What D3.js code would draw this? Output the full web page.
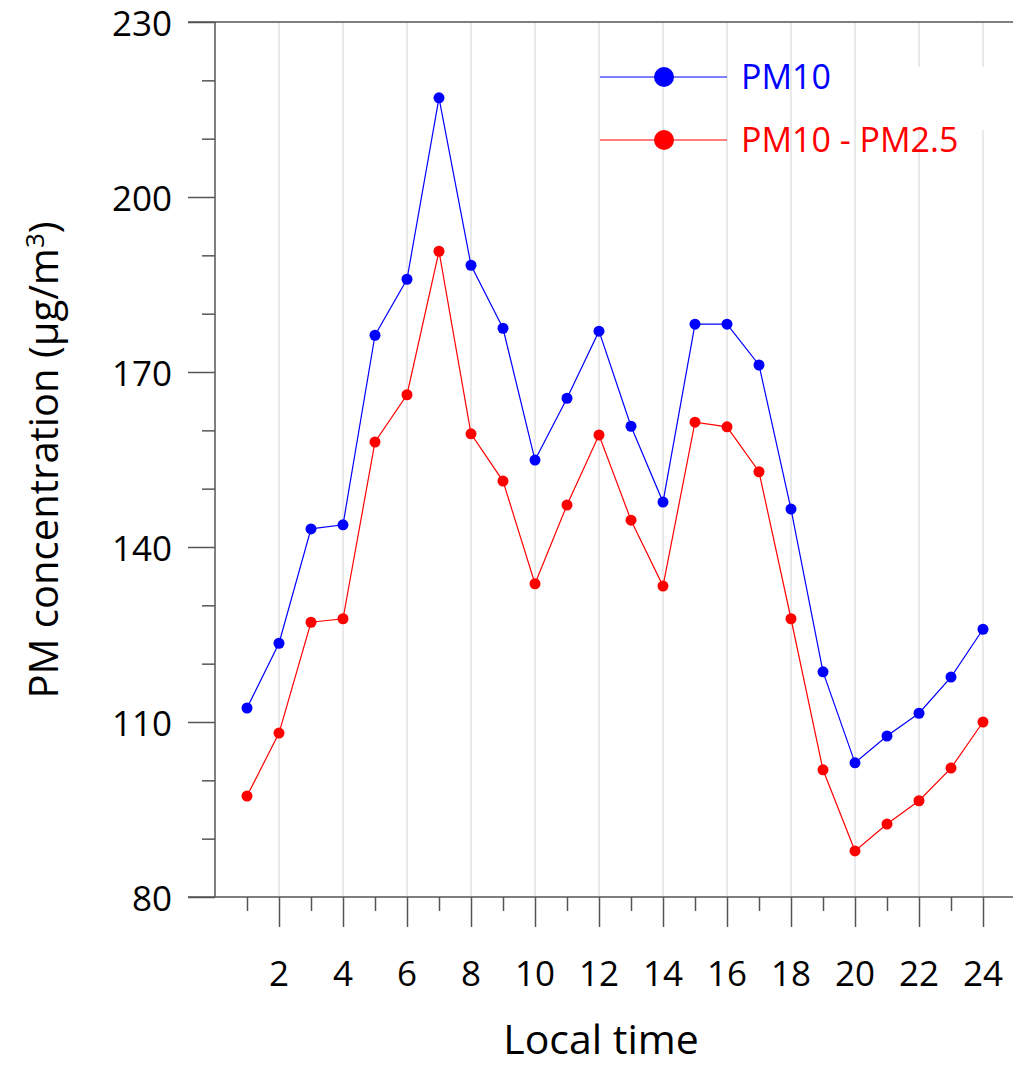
<!DOCTYPE html>
<html>
<head>
<meta charset="utf-8">
<script src="https://cdn.jsdelivr.net/npm/d3@7"></script>
<style>
  body { margin: 0; background: #fff; }
  text { font-family: "Comic Sans MS", "Open Sans", "DejaVu Sans", sans-serif; }
</style>
</head>
<body>
<div class="chart"></div>
<script>
// hours of the day
const hours = d3.range(1, 25);
// PM10 hourly mean
const pm10 = [112.4, 123.5, 143.1, 143.8, 176.3, 185.9, 217.0, 188.3, 177.5, 154.9, 165.5, 177.0,
              160.7, 147.7, 178.2, 178.2, 171.2, 146.5, 118.6, 103.0, 107.6, 111.5, 117.7, 125.9];
// PM10 - PM2.5 (coarse fraction)
const coarse = [97.3, 108.1, 127.1, 127.7, 158.0, 166.1, 190.7, 159.4, 151.3, 133.7, 147.2, 159.2,
                144.6, 133.3, 161.4, 160.6, 152.9, 127.7, 101.8, 87.9, 92.5, 96.5, 102.1, 110.0];
const seriesNames = ["PM10", "PM10 - PM2.5"];
const seriesColors = ["#0000ff", "#ff0000"];
const yTicks = [80, 110, 140, 170, 200, 230];
const xTicks = [2, 4, 6, 8, 10, 12, 14, 16, 18, 20, 22, 24];

const width = 1013, height = 1067;
const margin = { top: 22, right: 0, bottom: 170, left: 215 };

const svg = d3.select(".chart").append("svg")
    .attr("width", width)
    .attr("height", height);

const x = d3.scaleLinear().domain([0, 25]).range([margin.left, 1015]);
const y = d3.scaleLinear().domain([80, 230]).range([height - margin.bottom, margin.top]);

// vertical grid at even hours
svg.append("g")
    .selectAll("line")
    .data(xTicks)
    .enter().append("line")
    .attr("x1", d => x(d)).attr("x2", d => x(d))
    .attr("y1", y(230)).attr("y2", y(80))
    .attr("stroke", "#d4d4d4")
    .attr("stroke-width", 1);

// y axis
const yAxis = svg.append("g")
    .attr("transform", `translate(${margin.left},0)`)
    .call(d3.axisLeft(y).tickValues(d3.range(80, 231, 10)).tickSize(13).tickFormat(""));
yAxis.selectAll(".tick line")
    .filter(d => yTicks.includes(d))
    .attr("x2", -27);
yAxis.selectAll("line, path").attr("stroke", "#555").attr("stroke-width", 1.5);
yAxis.select(".domain").attr("d", `M0,${y(80)}V${y(230)}`);

svg.append("g")
    .selectAll("text")
    .data(yTicks)
    .enter().append("text")
    .attr("x", 172)
    .attr("y", d => y(d))
    .attr("dy", "0.4em")
    .attr("text-anchor", "end")
    .attr("font-size", 35)
    .text(d => d);

// x axis
const xAxis = svg.append("g")
    .attr("transform", `translate(0,${y(80)})`)
    .call(d3.axisBottom(x).tickValues(hours).tickSize(14).tickFormat(""));
xAxis.selectAll(".tick line")
    .filter(d => d % 2 === 0)
    .attr("y2", 30);
xAxis.selectAll("line, path").attr("stroke", "#555").attr("stroke-width", 1.5);
xAxis.select(".domain").attr("d", `M188,0H${width}`);

// top frame line
svg.append("line")
    .attr("x1", 188).attr("x2", width)
    .attr("y1", y(230)).attr("y2", y(230))
    .attr("stroke", "#555").attr("stroke-width", 1.5);

svg.append("g")
    .selectAll("text")
    .data(xTicks)
    .enter().append("text")
    .attr("x", d => x(d))
    .attr("y", 986)
    .attr("text-anchor", "middle")
    .attr("font-size", 35)
    .text(d => d);

// axis titles
svg.append("text")
    .attr("x", 601)
    .attr("y", 1054)
    .attr("text-anchor", "middle")
    .attr("font-size", 41)
    .text("Local time");

const yTitle = svg.append("text")
    .attr("transform", `translate(58,460) rotate(-90)`)
    .attr("text-anchor", "middle")
    .attr("font-size", 40);
yTitle.append("tspan").text("PM concentration (\u00b5g/m");
yTitle.append("tspan").attr("dy", -14).attr("font-size", 26).text("3");
yTitle.append("tspan").attr("dy", 14).text(")");

// series
const series = [pm10, coarse];
const line = d3.line()
    .x((d, i) => x(hours[i]))
    .y(d => y(d));

series.forEach((vals, k) => {
    svg.append("path")
        .datum(vals)
        .attr("fill", "none")
        .attr("stroke", seriesColors[k])
        .attr("stroke-width", 1.2)
        .attr("d", line);
    svg.append("g")
        .selectAll("circle")
        .data(vals)
        .enter().append("circle")
        .attr("cx", (d, i) => x(hours[i]))
        .attr("cy", d => y(d))
        .attr("r", 5.5)
        .attr("fill", seriesColors[k]);
});

// legend
svg.append("rect")
    .attr("x", 900).attr("y", 67)
    .attr("width", width - 900).attr("height", 63)
    .attr("fill", "#fff");

const legend = svg.append("g")
    .selectAll("g")
    .data(seriesNames)
    .enter().append("g")
    .attr("transform", (d, i) => `translate(0,${77 + i * 63})`);
legend.append("line")
    .attr("x1", 600).attr("x2", 727)
    .attr("stroke", (d, i) => seriesColors[i])
    .attr("stroke-width", 1.2);
legend.append("circle")
    .attr("cx", 664)
    .attr("r", 10)
    .attr("fill", (d, i) => seriesColors[i]);
legend.append("text")
    .attr("x", 741)
    .attr("dy", "0.35em")
    .attr("font-size", 34)
    .attr("fill", (d, i) => seriesColors[i])
    .text(d => d);
</script>
</body>
</html>
